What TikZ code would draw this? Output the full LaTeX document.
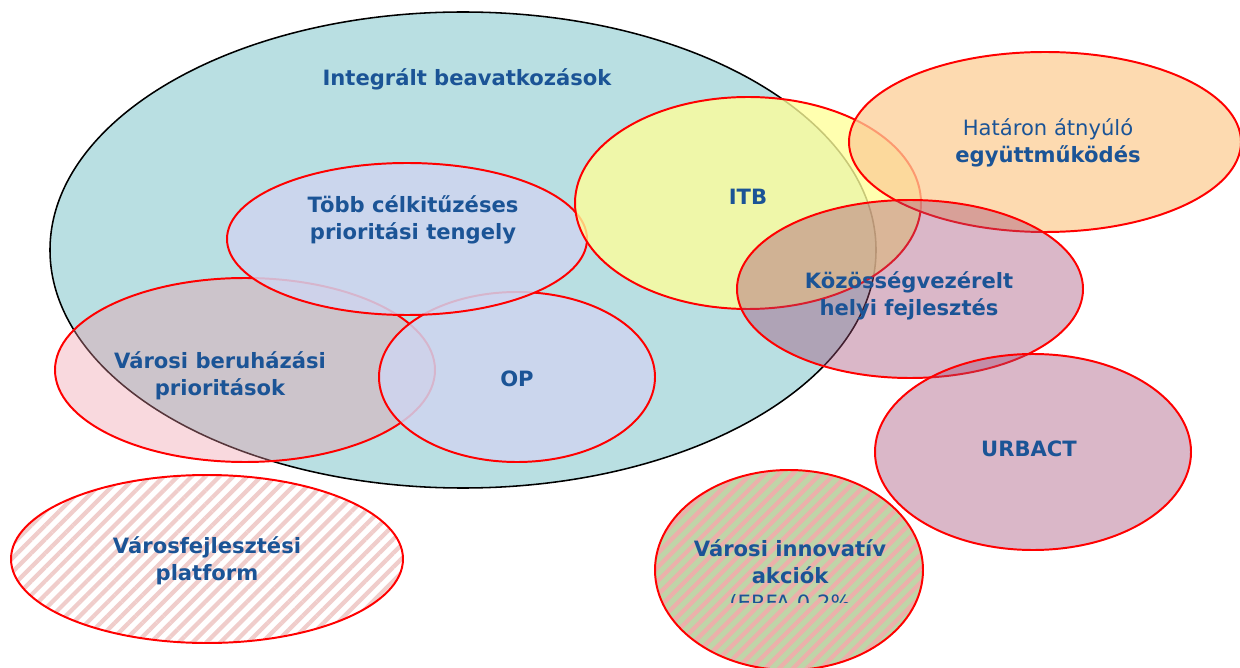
\documentclass[tikz,border=0pt]{standalone}
\usepackage{fontspec}
\setmainfont{DejaVu Sans}
\usetikzlibrary{patterns.meta}

\definecolor{tealfill}{RGB}{185,223,226}
\definecolor{lavfill}{RGB}{207,213,240}
\definecolor{pinkfill}{RGB}{239,150,164}
\definecolor{yellowfill}{RGB}{255,255,153}
\definecolor{orangefill}{RGB}{252,205,150}
\definecolor{mauvefill}{RGB}{162,75,117}
\definecolor{greenfill}{RGB}{192,212,168}
\definecolor{stripepink}{RGB}{240,205,203}
\definecolor{stripered}{RGB}{236,176,170}
\definecolor{labelblue}{RGB}{27,84,150}

\begin{document}
\begin{tikzpicture}[x=0.025cm,y=-0.025cm,
    set/.style={draw=red,line width=1.4pt},
    hatch/.style={pattern={Lines[angle=45,distance=7pt,line width=3pt]}},
    label/.style={text=labelblue,align=center,font=\fontsize{15}{19}\selectfont\bfseries}]

			\useasboundingbox (0,0) rectangle (1240,668);

			\draw[fill=tealfill,line width=1.1pt] (463,250) ellipse [x radius=413, y radius=238];

			\draw[set,fill=pinkfill,fill opacity=0.36] (245,370) ellipse [x radius=190, y radius=92];
			\draw[set,fill=lavfill,fill opacity=0.85] (517,377) ellipse [x radius=138, y radius=85];
			\draw[set,fill=lavfill,fill opacity=0.85] (407,239) ellipse [x radius=180, y radius=76];

			\draw[set,fill=yellowfill,fill opacity=0.78] (748,203) ellipse [x radius=173, y radius=106];
			\draw[set,fill=orangefill,fill opacity=0.75] (1045,142) ellipse [x radius=196, y radius=90];
			\draw[set,fill=mauvefill,fill opacity=0.4] (910,289) ellipse [x radius=173, y radius=89];
			\draw[set,fill=mauvefill,fill opacity=0.4] (1033,452) ellipse [x radius=158, y radius=98];

			\fill[white] (207,559) ellipse [x radius=196, y radius=84];
			\draw[set,hatch,pattern color=stripepink] (207,559) ellipse [x radius=196, y radius=84];
			\fill[greenfill] (789,570) ellipse [x radius=134, y radius=100];
			\draw[set,hatch,pattern color=stripered] (789,570) ellipse [x radius=134, y radius=100];

			\node[label] (integralt) at (467,79) {Integrált beavatkozások};
			\node[label] (tobb) at (413,220) {Több célkitűzéses\\prioritási tengely};
			\node[label] (itb) at (748,197) {ITB};
			\node[label] (hataron) at (1048,143) {\mdseries Határon átnyúló\\együttműködés};
			\node[label] (kozosseg) at (909,296) {Közösségvezérelt\\helyi fejlesztés};
			\node[label] (beruhazasi) at (220,376) {Városi beruházási\\prioritások};
			\node[label] (op) at (517,379) {OP};
			\node[label] (urbact) at (1029,449) {URBACT};
			\node[label] (platform) at (207,561) {Városfejlesztési\\platform};

			\begin{scope}
				\clip (650,450) rectangle (930,602);
				\node[label,anchor=north] (innovativ) at (790,535) {Városi innovatív\\akciók\\\mdseries(ERFA 0,2\%};
			\end{scope}

		\end{tikzpicture}
\end{document}
